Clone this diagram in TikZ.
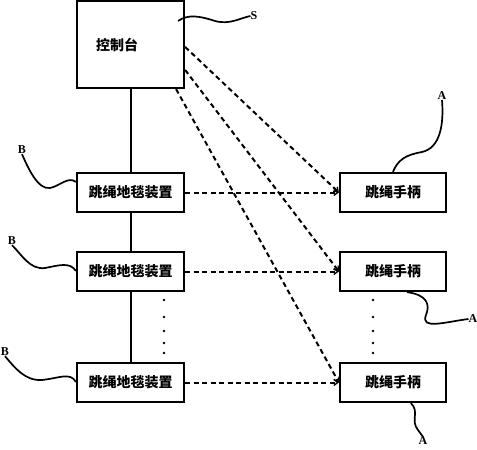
\documentclass[tikz,border=0pt]{standalone}
\usepackage{fontspec}
\newfontfamily\cjk{Noto Sans CJK SC}
\newfontfamily\lblfont{Liberation Serif}
\usetikzlibrary{arrows.meta,calc}
\begin{document}
\begin{tikzpicture}[x=1pt,y=-1pt,
  box/.style={draw,line width=2.2pt,inner sep=0pt,font=\cjk\bfseries\fontsize{14}{16}\selectfont},
  bbox/.style={box,minimum width=107pt,minimum height=39pt},
  abox/.style={box,minimum width=106pt,minimum height=39pt},
  solidline/.style={line width=2pt},
  dashline/.style={line width=2pt,dash pattern=on 5pt off 3.5pt,-{Straight Barb[length=4pt,width=6pt,line width=1.3pt]}},
  lead/.style={line width=1.7pt},
  lbl/.style={font=\lblfont\bfseries\fontsize{12}{13}\selectfont,inner sep=0pt}]
\useasboundingbox (0,0) rectangle (477,450);
% boxes
\node[box,minimum width=107pt,minimum height=87pt] (ctrl) at (130.5,44.5) {};
\node[font=\cjk\bfseries\fontsize{14}{16}\selectfont,inner sep=0pt] (ctrltxt) at (117,45) {控制台};
\node[bbox] (b1) at (130.5,192.5) {跳绳地毯装置};
\node[bbox] (b2) at (130.5,271.5) {跳绳地毯装置};
\node[bbox] (b3) at (130.5,382.5) {跳绳地毯装置};
\node[abox] (a1) at (393,192.5) {跳绳手柄};
\node[abox] (a2) at (393,271.5) {跳绳手柄};
\node[abox] (a3) at (393,382.5) {跳绳手柄};
% solid vertical links
\draw[solidline] (ctrl.south) -- (b1.north);
\draw[solidline] (b1.south) -- (b2.north);
\draw[solidline] (b2.south) -- (b3.north);
% dots
\foreach \yy in {300,317,331,343,353}{
  \fill (164,\yy) circle (1.3pt);
  \fill (373,\yy) circle (1.3pt);
}
% dashed links
\draw[dashline] (b1.east) -- (a1.west);
\draw[dashline] (b2.east) -- (a2.west);
\draw[dashline] (b3.east) -- (a3.west);
\coordinate (c1) at ($(ctrl.north east)+(0,47)$);
\coordinate (c2) at ($(ctrl.north east)+(0,70)$);
\coordinate (c3) at ($(ctrl.south east)+(-9,0)$);
\draw[dashline] (c1) -- (a1.west);
\draw[dashline] (c2) -- (a2.west);
\draw[dashline] (c3) -- (a3.west);
% labels
\node[lbl] (S) at (254,16) {S};
\node[lbl] (LA1) at (442,96) {A};
\node[lbl] (LA2) at (473,319) {A};
\node[lbl] (LA3) at (423,441) {A};
\node[lbl] (LB1) at (22,150) {B};
\node[lbl] (LB2) at (12,241) {B};
\node[lbl] (LB3) at (5,352) {B};
% leader curves
\coordinate (sS) at ($(ctrl.north east)+(-7,21)$);
\draw[lead] (sS) .. controls (188,14) and (200,16) .. (215,21) .. controls (230,25) and (240,18) .. (S.west);
\coordinate (sA1) at ($(a1.north west)+(54,0)$);
\draw[lead] (sA1) .. controls (398,160) and (405,155) .. (422,152) .. controls (440,148) and (444,125) .. (LA1.south);
\coordinate (sA2) at ($(a2.south west)+(68,0)$);
\draw[lead] (sA2) .. controls (428,295) and (430,305) .. (426,315) .. controls (420,330) and (445,322) .. (LA2.west);
\coordinate (sA3) at ($(a3.south west)+(72,0)$);
\draw[lead] (sA3) .. controls (420,412) and (410,420) .. (418,430) .. controls (421,433) .. (LA3.north);
\coordinate (eB1) at ($(b1.north west)+(0,10)$);
\draw[lead] (LB1.south) .. controls (28,168) and (38,190) .. (50,188) .. controls (60,186) and (68,176) .. (eB1);
\coordinate (eB2) at ($(b2.north west)+(0,20)$);
\draw[lead] (LB2.south) .. controls (22,255) and (30,270) .. (45,268) .. controls (60,265) and (70,262) .. (eB2);
\coordinate (eB3) at ($(b3.north west)+(0,20)$);
\draw[lead] (LB3.south) .. controls (15,368) and (25,381) .. (42,380) .. controls (60,378) and (70,372) .. (eB3);
\end{tikzpicture}
\end{document}
